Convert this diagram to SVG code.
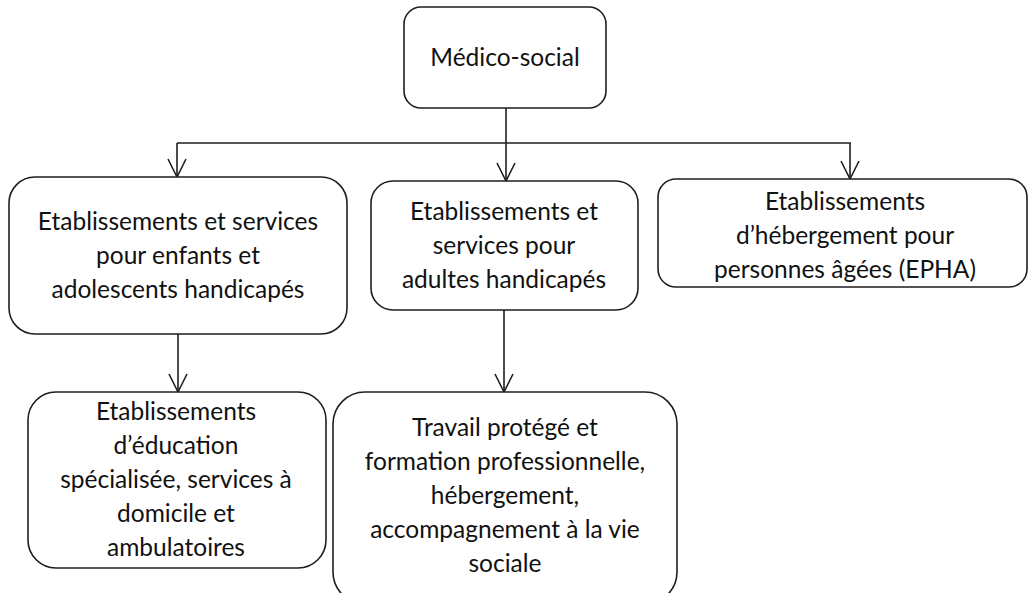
<svg xmlns="http://www.w3.org/2000/svg" width="1029" height="593" viewBox="0 0 1029 593">
  <defs>
    <style>
      .box { fill: #ffffff; stroke: #1e1e1e; stroke-width: 1.6; }
      .lbl { font-family: "Lato", "Liberation Sans", sans-serif; font-size: 24.5px; fill: #111111; text-anchor: middle; }
      .wire { fill: none; stroke: #1e1e1e; stroke-width: 1.6; }
    </style>
    <!-- open V arrowhead, tip on the line end -->
    <marker id="vee" viewBox="0 0 22 22" refX="20" refY="11" markerWidth="22" markerHeight="22" markerUnits="userSpaceOnUse" orient="auto">
      <path d="M2 2 L20 11 L2 20" fill="none" stroke="#1e1e1e" stroke-width="1.6"/>
    </marker>
  </defs>
  <rect width="1029" height="593" fill="#ffffff"/>

  <!-- connectors -->
  <g id="connectors">
    <path class="wire" d="M506 108 V143"/>
    <path class="wire" d="M177 143 H851"/>
    <path class="wire" d="M177 143 V177" marker-end="url(#vee)"/>
    <path class="wire" d="M506 143 V181" marker-end="url(#vee)"/>
    <path class="wire" d="M850 143 V179" marker-end="url(#vee)"/>
    <path class="wire" d="M178 334 V392" marker-end="url(#vee)"/>
    <path class="wire" d="M504 310 V392" marker-end="url(#vee)"/>
  </g>

  <!-- root -->
  <g id="node-medico-social">
    <rect class="box" x="404" y="7" width="202" height="101" rx="17"/>
    <text class="lbl" x="505" y="66">Médico-social</text>
  </g>

  <!-- children -->
  <g id="node-enfants">
    <rect class="box" x="9" y="177" width="338" height="157" rx="26"/>
    <text class="lbl" x="178" y="230">Etablissements et services</text>
    <text class="lbl" x="178" y="264">pour enfants et</text>
    <text class="lbl" x="178" y="298">adolescents handicapés</text>
  </g>

  <g id="node-adultes">
    <rect class="box" x="371" y="181" width="267" height="129" rx="22"/>
    <text class="lbl" x="504" y="220">Etablissements et</text>
    <text class="lbl" x="504" y="254">services pour</text>
    <text class="lbl" x="504" y="288">adultes handicapés</text>
  </g>

  <g id="node-epha">
    <rect class="box" x="658" y="179" width="369" height="108" rx="18"/>
    <text class="lbl" x="845" y="210">Etablissements</text>
    <text class="lbl" x="845" y="244">d’hébergement pour</text>
    <text class="lbl" x="845" y="278">personnes âgées (EPHA)</text>
  </g>

  <!-- grandchildren -->
  <g id="node-education">
    <rect class="box" x="28" y="392" width="298" height="176" rx="28"/>
    <text class="lbl" x="176" y="420">Etablissements</text>
    <text class="lbl" x="176" y="454">d’éducation</text>
    <text class="lbl" x="176" y="488">spécialisée, services à</text>
    <text class="lbl" x="176" y="522">domicile et</text>
    <text class="lbl" x="176" y="556">ambulatoires</text>
  </g>

  <g id="node-travail">
    <rect class="box" x="333" y="392" width="344" height="212" rx="32"/>
    <text class="lbl" x="505" y="436">Travail protégé et</text>
    <text class="lbl" x="505" y="470">formation professionnelle,</text>
    <text class="lbl" x="505" y="504">hébergement,</text>
    <text class="lbl" x="505" y="538">accompagnement à la vie</text>
    <text class="lbl" x="505" y="572">sociale</text>
  </g>
</svg>
